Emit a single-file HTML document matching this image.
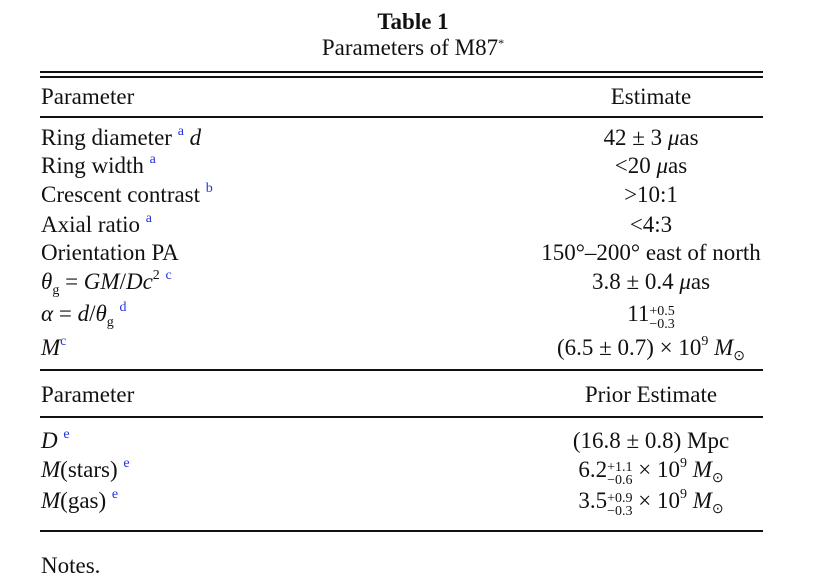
<!DOCTYPE html>
<html><head><meta charset="utf-8"><style>
body{margin:0;width:825px;height:561px;background:#fff;position:relative;overflow:hidden;font-family:"Liberation Serif",serif;color:#111;font-size:23px}
.t{position:absolute;white-space:nowrap;line-height:23px;height:23px}
.c{transform:translateX(-50%)}
.l{position:absolute;left:40px;width:723px;background:#111}
sup,sub{line-height:0;vertical-align:baseline;position:relative;font-size:14px}
sup{top:-10px}
sub{top:5px}
.b{color:#2233dd}
i{font-style:italic}
.ss{display:inline-block;vertical-align:-7px;font-size:14px;line-height:13px;text-align:left}
</style></head><body>
<div class="t c" style="left:413px;top:10px;font-weight:bold">Table 1</div>
<div class="t c" style="left:413px;top:36px">Parameters of M87<sup style="font-size:12px;top:-8px">*</sup></div>
<div class="l" style="top:71px;height:2px"></div>
<div class="l" style="top:76px;height:2px"></div>
<div class="t" style="left:41px;top:85px">Parameter</div>
<div class="t c" style="left:651px;top:85px">Estimate</div>
<div class="l" style="top:116px;height:2px"></div>

<div class="t" style="left:41px;top:126px">Ring diameter <sup class="b">a</sup> <i>d</i></div>
<div class="t c" style="left:651px;top:126px">42 ± 3 <i>μ</i>as</div>
<div class="t" style="left:41px;top:154px">Ring width <sup class="b">a</sup></div>
<div class="t c" style="left:651px;top:154px">&lt;20 <i>μ</i>as</div>
<div class="t" style="left:41px;top:183px">Crescent contrast <sup class="b">b</sup></div>
<div class="t c" style="left:651px;top:183px">&gt;10:1</div>
<div class="t" style="left:41px;top:213px">Axial ratio <sup class="b">a</sup></div>
<div class="t c" style="left:651px;top:213px">&lt;4:3</div>
<div class="t" style="left:41px;top:241px">Orientation PA</div>
<div class="t c" style="left:651px;top:241px">150°–200° east of north</div>
<div class="t" style="left:41px;top:270px"><i>θ</i><sub>g</sub> = <i>GM</i>/<i>Dc</i><sup>2</sup> <sup class="b">c</sup></div>
<div class="t c" style="left:651px;top:270px">3.8 ± 0.4 <i>μ</i>as</div>
<div class="t" style="left:41px;top:302px"><i>α</i> = <i>d</i>/<i>θ</i><sub>g</sub> <sup class="b">d</sup></div>
<div class="t c" style="left:651px;top:302px">11<span class="ss">+0.5<br>−0.3</span></div>
<div class="t" style="left:41px;top:336px"><i>M</i><sup class="b">c</sup></div>
<div class="t c" style="left:651px;top:336px">(6.5 ± 0.7) × 10<sup>9</sup> <i>M</i><sub>⊙</sub></div>
<div class="l" style="top:369px;height:2px"></div>
<div class="t" style="left:41px;top:383px">Parameter</div>
<div class="t c" style="left:651px;top:383px">Prior Estimate</div>
<div class="l" style="top:416px;height:2px"></div>
<div class="t" style="left:41px;top:429px"><i>D</i> <sup class="b">e</sup></div>
<div class="t c" style="left:651px;top:429px">(16.8 ± 0.8) Mpc</div>
<div class="t" style="left:41px;top:458px"><i>M</i>(stars) <sup class="b">e</sup></div>
<div class="t c" style="left:651px;top:458px">6.2<span class="ss">+1.1<br>−0.6</span> × 10<sup>9</sup> <i>M</i><sub>⊙</sub></div>
<div class="t" style="left:41px;top:489px"><i>M</i>(gas) <sup class="b">e</sup></div>
<div class="t c" style="left:651px;top:489px">3.5<span class="ss">+0.9<br>−0.3</span> × 10<sup>9</sup> <i>M</i><sub>⊙</sub></div>
<div class="l" style="top:530px;height:2px"></div>
<div class="t" style="left:41px;top:554px">Notes.</div>
</body></html>
